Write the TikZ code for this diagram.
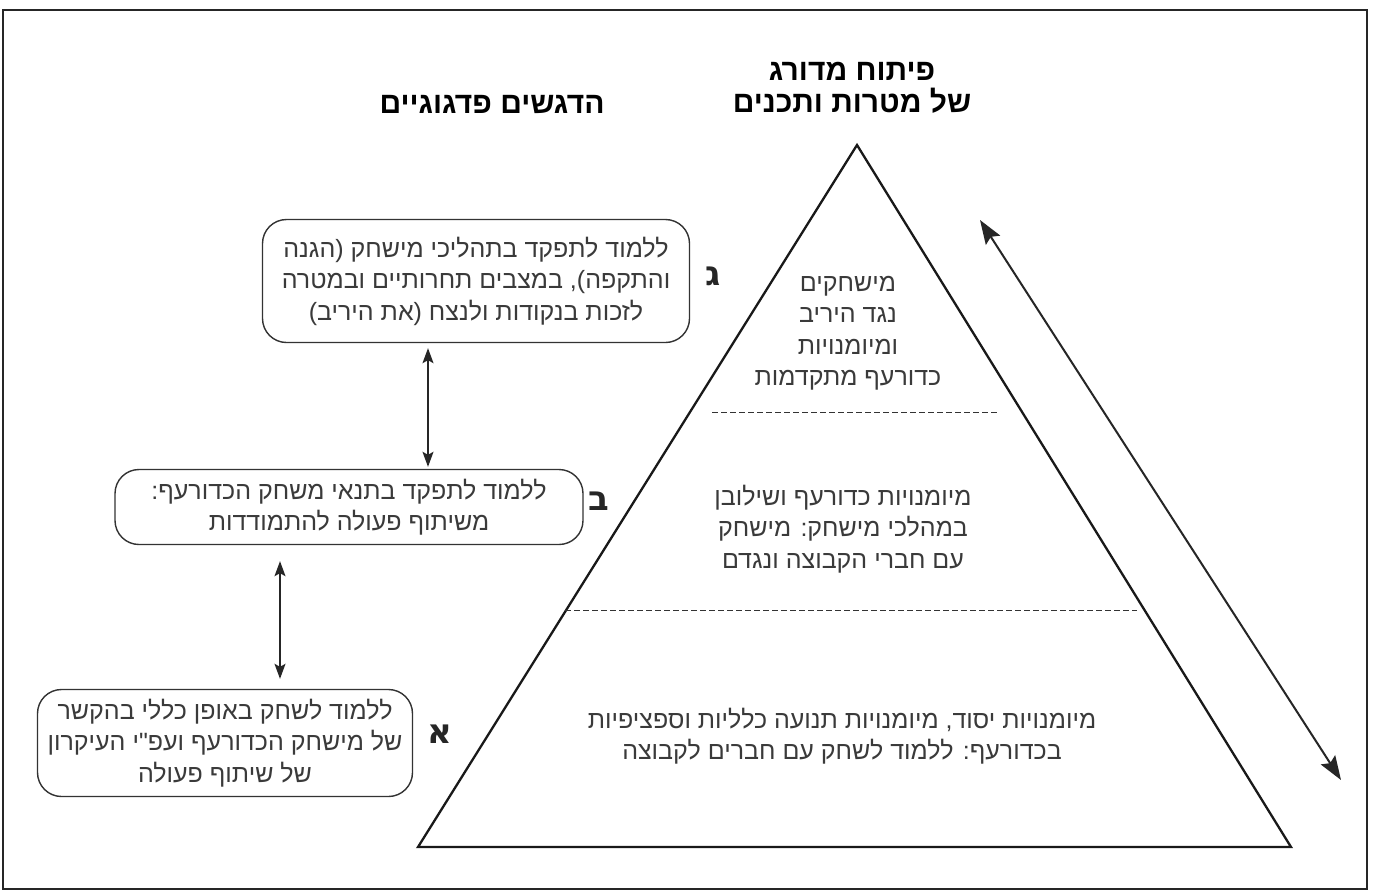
\documentclass[tikz,border=0pt]{standalone}
\usepackage{fontspec}
\setmainfont{Liberation Sans}
\newfontfamily\heb[Script=Hebrew]{Liberation Sans}
\newfontfamily\hebletter[Script=Hebrew]{DejaVu Sans}
\TeXXeTstate=1
\newcommand\RL[1]{\beginR #1\endR}
\usetikzlibrary{arrows.meta}
\definecolor{inkgray}{HTML}{3A3A3A}
\begin{document}
\begin{tikzpicture}[x=1pt,y=-1pt,
  bodytext/.style={font=\heb\fontsize{25}{31.5}\selectfont, text=inkgray, align=center, inner sep=0pt},
  headtext/.style={font=\heb\bfseries\fontsize{30}{32}\selectfont, text=black, align=center, inner sep=0pt},
  lettertext/.style={font=\hebletter\bfseries\fontsize{34}{36}\selectfont, text=black!85, inner sep=0pt},
  goalbox/.style={draw=black!80, line width=1.4pt, rounded corners=24pt, inner sep=0pt},
  framebox/.style={draw=black!85, line width=2.4pt},
  tri/.style={draw=black!90, line width=2.3pt, line join=miter},
  divider/.style={draw=black!80, line width=1pt, dash pattern=on 5.5pt off 3.5pt},
  dblarrow/.style={draw=black!85, line width=1.3pt, {Stealth[length=15pt,width=11pt,inset=3pt]}-{Stealth[length=15pt,width=11pt,inset=3pt]}},
  bigarrow/.style={draw=black!85, line width=2pt, {Stealth[length=24pt,width=17pt,inset=4pt]}-{Stealth[length=24pt,width=17pt,inset=4pt]}}
]
\useasboundingbox (0,0) rectangle (1379,892);
\fill[white] (0,0) rectangle (1379,892);
% frame
\coordinate (frA) at (3,10);
\coordinate (frB) at (1367,889);
\draw[framebox] (frA) rectangle (frB);

% triangle
\coordinate (apex) at (857,145);
\coordinate (bl) at (418,847);
\coordinate (br) at (1291,847);
\draw[tri] (apex) -- (bl) -- (br) -- cycle;

% dividers
\coordinate (d1a) at (712,412);
\coordinate (d1b) at (997,412);
\coordinate (d2a) at (565,610);
\coordinate (d2b) at (1137,610);
\draw[divider] (d1a) -- (d1b);
\draw[divider] (d2a) -- (d2b);

% big double arrow
\coordinate (ba1) at (980,220);
\coordinate (ba2) at (1341,780);
\draw[bigarrow] (ba1) -- (ba2);

% headers
\node[headtext] (h1) at (852,88) {\RL{פיתוח מדורג}\\\RL{של מטרות ותכנים}};
\node[headtext] (h2) at (492,104) {\RL{הדגשים פדגוגיים}};

% triangle texts
\node[bodytext] (tg) at (848,333) {\RL{מישחקים}\\\RL{נגד היריב}\\\RL{ומיומנויות}\\\RL{כדורעף מתקדמות}};
\node[bodytext] (tb) at (843,529) {\RL{מיומנויות כדורעף ושילובן}\\\RL{במהלכי מישחק: מישחק}\\\RL{עם חברי הקבוצה ונגדם}};
\node[bodytext] (ta) at (842,736) {\RL{מיומנויות יסוד, מיומנויות תנועה כלליות וספציפיות}\\\RL{בכדורעף: ללמוד לשחק עם חברים לקבוצה}};

% letters
\node[lettertext] (lg) at (713,276) {\RL{ג}};
\node[lettertext] (lb) at (599,501) {\RL{ב}};
\node[lettertext] (la) at (440,734) {\RL{א}};

% goal boxes
\node[goalbox, minimum width=427pt, minimum height=123pt] (bg) at (476,281) {};
\node[bodytext] (bgt) at (bg.center) {\RL{ללמוד לתפקד בתהליכי מישחק (הגנה}\\\RL{והתקפה), במצבים תחרותיים ובמטרה}\\\RL{לזכות בנקודות ולנצח (את היריב)}};
\node[goalbox, minimum width=468pt, minimum height=75pt] (bb) at (349,507) {};
\node[bodytext] (bbt) at (bb.center) {\RL{ללמוד לתפקד בתנאי משחק הכדורעף:}\\\RL{משיתוף פעולה להתמודדות}};
\node[goalbox, minimum width=375pt, minimum height=107pt] (ba) at (225,743) {};
\node[bodytext] (bat) at (ba.center) {\RL{ללמוד לשחק באופן כללי בהקשר}\\\RL{של מישחק הכדורעף ועפ"י העיקרון}\\\RL{של שיתוף פעולה}};

% vertical arrows
\coordinate (ax1) at (428,0);
\coordinate (ax2) at (280,0);
\draw[dblarrow, shorten <=5pt, shorten >=2pt] (bg.south -| ax1) -- (bb.north -| ax1);
\draw[dblarrow, shorten <=16pt, shorten >=10pt] (bb.south -| ax2) -- (ba.north -| ax2);
\end{tikzpicture}
\end{document}
